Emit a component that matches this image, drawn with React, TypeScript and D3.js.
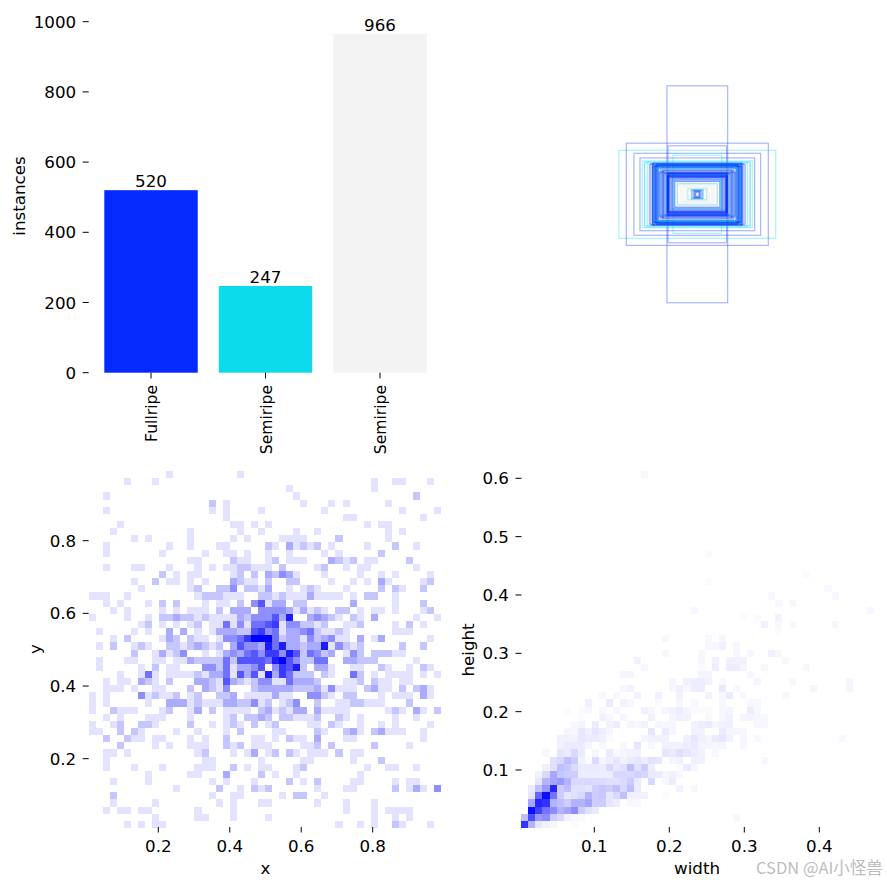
import * as d3 from 'd3'

const classNames = ['Fullripe', 'Semiripe', 'Semiripe']
const instanceCounts = [520, 247, 966]
const classColors = ['#042AFF', '#0BDBEB', '#F3F3F3']
const countTicks = [0, 200, 400, 600, 800, 1000]

// box sizes as fractions of the image, in the order they get drawn
const boxWidths = [
  0.442, 0.4, 0.357, 0.323, 0.171, 0.165, 0.137, 0.31, 0.298, 0.282, 0.296, 0.27, 0.262, 0.25, 0.246, 0.24, 0.238,
  0.229, 0.235, 0.224, 0.216, 0.233, 0.222, 0.207, 0.197, 0.252, 0.244, 0.254, 0.248, 0.242, 0.236, 0.231, 0.226,
  0.221, 0.25, 0.241, 0.246, 0.24, 0.19, 0.184, 0.179, 0.173, 0.167, 0.167, 0.16, 0.15, 0.17, 0.164, 0.172, 0.176,
  0.169, 0.162, 0.156,
  0.21, 0.2, 0.22, 0.195, 0.19, 0.185, 0.205, 0.214, 0.2, 0.17, 0.165, 0.162, 0.158, 0.168, 0.166, 0.137, 0.13, 0.145,
  0.141, 0.126, 0.132, 0.116, 0.107, 0.094, 0.079, 0.068, 0.112, 0.086, 0.06, 0.053, 0.047, 0.034,
  0.03, 0.023, 0.02, 0.015, 0.012, 0.009,
]
const boxHeights = [
  0.248, 0.288, 0.231, 0.205, 0.611, 0.273, 0.22, 0.188, 0.184, 0.179, 0.176, 0.168, 0.172, 0.175, 0.17, 0.165, 0.172,
  0.169, 0.164, 0.158, 0.165, 0.15, 0.147, 0.141, 0.135, 0.16, 0.155, 0.17, 0.174, 0.168, 0.162, 0.172, 0.166, 0.16,
  0.154, 0.148, 0.166, 0.158, 0.131, 0.128, 0.117, 0.113, 0.107, 0.122, 0.107, 0.098, 0.112, 0.104, 0.11, 0.115, 0.1,
  0.118, 0.094,
  0.13, 0.125, 0.15, 0.14, 0.115, 0.12, 0.15, 0.122, 0.145, 0.105, 0.11, 0.1, 0.095, 0.1, 0.116, 0.08, 0.075, 0.085,
  0.09, 0.071, 0.082, 0.064, 0.056, 0.052, 0.047, 0.038, 0.06, 0.042, 0.034, 0.03, 0.024, 0.026, 0.024,
  0.02, 0.018, 0.019, 0.014, 0.011,
]
const boxClasses = [
  1, 0, 0, 0, 0, 0, 1, 1, 1, 1, 1, 0, 0, 0, 0, 0, 2, 0, 0, 1, 0, 0, 0, 2, 0, 0, 1, 0, 0, 0, 0, 0, 0, 0, 0, 1, 1, 0, 0, 2,
  0, 0, 0, 0, 0, 0, 0, 0, 1, 1, 0, 0, 0,
  0, 0, 1, 0, 0, 0, 0, 0, 1, 0, 0, 0, 0, 0, 0, 0, 0, 0,
  0, 0, 1, 2, 2, 2, 2, 2, 1, 2, 2, 1, 2, 1, 0, 1, 0, 0, 0, 0,
]

// x/y histogram, one entry per row from the top, "column:count"
const xyRows = [
  '11:1 21:1',
  '5:1 9:1 40:1 43:1 44:1 48:1',
  '28:1 40:1',
  '2:1 29:1 46:2',
  '17:2 19:1 30:1 34:1 36:1 42:1',
  '2:1 17:1 19:1 24:1 33:1 44:1 49:1',
  '19:1 36:1 37:1 47:1',
  '4:1 20:1 21:1 23:1 25:1 39:1 41:1 42:1',
  '3:1 14:1 21:1 24:1 29:1 32:1 42:1 44:1',
  '6:1 8:1 14:1 20:1 22:1 27:1 28:1 29:1 30:1 35:2 42:1',
  '2:1 11:1 14:1 18:1 19:1 25:2 26:1 28:3 29:1 30:2 31:1 32:2 34:1 39:1 43:2 46:1',
  '2:1 10:1 16:1 19:1 20:1 22:1 25:1 28:1 33:1 35:1 41:2',
  '14:1 15:1 20:2 21:1 22:1 25:1 26:2 28:1 29:1 30:1 34:3 35:2 36:1 37:2 39:1 40:1 45:2',
  '2:1 6:1 7:1 11:1 15:1 17:1 19:1 20:1 21:2 22:2 23:1 24:1 25:1 27:2 32:1 33:2 36:1 38:1 39:1 46:1',
  '10:2 12:1 14:1 15:1 20:1 21:2 23:2 25:3 26:2 27:4 28:3 29:1 33:1 38:1 41:1 43:1 48:1',
  '6:1 9:2 11:1 12:1 14:1 16:1 20:3 21:2 22:1 23:1 25:2 28:2 29:2 34:1 37:1 39:1 41:3 42:1 47:1 48:2',
  '7:1 14:1 15:2 18:2 19:2 20:4 22:2 23:2 24:1 25:3 28:1 30:1 31:2 32:1 36:1 41:2 43:2 44:1 47:2',
  '0:1 1:1 2:1 5:1 15:1 16:2 17:2 18:2 19:1 20:1 21:1 24:2 25:2 26:1 27:2 28:1 29:1 30:1 31:3 32:1 33:1 34:1 35:1 37:1 39:2 40:2 43:1',
  '2:1 4:1 8:1 10:2 12:2 16:1 18:1 19:1 21:2 23:4 24:6 25:1 26:3 27:3 29:2 30:2 37:3 43:1 47:2',
  '3:1 5:1 10:1 12:1 14:1 15:1 16:1 18:2 20:3 21:3 22:3 24:4 25:4 26:4 27:4 28:3 29:1 30:3 31:1 32:2 33:1 35:2 36:2 38:1 40:1 41:1 43:1 47:1 48:2',
  '0:1 5:1 8:1 10:2 11:2 12:3 13:2 14:2 15:1 16:2 17:1 18:1 19:1 20:1 21:3 22:2 23:4 24:4 25:4 26:6 27:3 28:8 31:3 32:4 33:3 34:2 35:1 37:2 38:1 40:3 46:1 49:1',
  '7:1 8:2 10:1 12:1 14:1 15:2 17:1 18:1 19:5 20:1 21:4 22:1 23:5 24:5 25:6 26:7 27:1 28:4 29:4 30:2 31:2 32:1 33:2 36:1 37:1 38:2 43:1 45:2 47:1',
  '1:1 6:1 8:1 11:3 13:3 15:1 17:1 18:3 19:3 20:3 21:2 22:2 23:6 24:7 25:4 26:5 27:1 28:3 29:3 30:4 31:5 32:2 33:1 34:1 35:2 36:1 43:1 44:1 45:1',
  '3:1 5:2 10:1 11:3 12:2 14:2 15:1 16:1 18:1 19:4 20:4 21:5 22:7 23:9 24:9 25:9 26:5 27:2 28:3 29:3 30:1 31:4 32:2 33:3 34:4 35:1 36:1 38:3 40:1 41:3 48:1',
  '1:1 3:2 6:1 7:2 8:1 11:2 12:2 13:1 14:2 15:3 16:2 17:1 18:2 20:3 21:6 22:4 23:4 24:3 25:8 26:5 27:8 28:3 29:3 30:2 31:3 32:3 33:8 34:1 35:4 36:2 37:1 38:2 44:2 47:2',
  '6:2 9:1 10:3 11:1 12:2 13:4 16:1 18:1 19:3 20:4 21:3 22:5 23:6 24:4 25:7 26:7 27:4 28:8 29:6 30:2 31:5 32:4 33:2 34:3 36:1 37:4 38:2 40:2 41:2 42:2 43:1 44:1',
  '1:1 5:1 6:1 9:1 10:1 12:1 13:1 14:3 15:2 16:2 17:2 18:2 19:5 20:2 21:6 22:6 23:6 24:6 25:5 26:8 27:9 28:6 29:4 30:2 31:2 32:5 33:5 36:3 37:3 38:2 39:2 40:2 46:1',
  '1:1 7:1 9:2 11:1 12:1 16:4 17:4 18:2 19:5 20:1 21:3 22:3 23:4 24:6 26:4 27:7 28:6 29:8 30:2 32:3 33:3 34:1 37:1 38:1 41:2 42:1 45:1 47:2 48:1',
  '4:1 7:1 8:5 9:1 11:1 12:1 13:1 14:1 15:2 16:1 17:3 18:3 19:5 20:1 21:6 22:3 23:6 24:1 25:8 26:3 27:7 28:5 29:2 30:2 31:2 33:2 34:1 37:5 38:2 40:1 42:1 43:1 44:1 45:1 47:1 49:1',
  '2:1 4:1 5:1 7:3 8:2 9:1 11:2 15:3 16:3 17:2 18:1 19:6 20:3 21:2 22:1 23:2 24:4 25:4 26:1 27:1 28:5 29:3 30:3 31:3 32:2 36:1 37:1 38:2 40:2 41:1 42:1 44:1 45:1',
  '2:1 3:1 4:1 6:1 9:1 10:1 14:2 16:3 17:2 18:1 19:4 23:2 24:3 25:3 26:3 27:3 28:3 29:2 30:2 31:2 32:3 33:1 34:4 35:1 36:1 37:1 39:2 40:3 41:1 42:1 44:2 46:2 47:3 48:1',
  '0:1 2:1 7:4 8:1 9:2 10:1 11:1 12:2 14:1 15:2 18:2 19:2 20:3 22:1 23:1 24:1 25:1 26:3 27:1 28:1 31:4 32:4 33:2 34:1 36:2 37:2 41:1 43:1 44:1 45:1 47:3 48:1',
  '0:1 2:1 8:1 11:3 12:3 13:3 14:1 15:2 16:1 17:1 18:1 19:3 20:3 21:2 22:2 23:4 24:1 25:2 27:1 28:2 29:4 32:2 35:1 36:1 37:2 38:2 39:1 40:1 41:1 45:2',
  '0:1 3:2 4:1 5:1 6:1 10:1 11:2 14:1 15:3 17:2 19:1 20:1 21:1 22:1 24:2 25:3 26:1 27:2 28:1 29:3 30:3 32:3 33:1 34:1 35:1 36:1 42:1 43:2 44:1 46:3 47:1 49:2',
  '2:1 4:1 8:1 9:1 10:1 14:1 19:1 20:2 22:2 23:2 24:3 25:2 27:2 28:2 29:1 30:1 31:1 32:2 35:2 36:1 38:1 43:1 46:1',
  '0:1 3:1 4:2 7:2 8:2 9:1 14:2 17:1 19:1 20:2 21:1 23:2 25:1 26:2 31:1 32:1 34:2 35:1 38:1 41:1 43:1 48:1',
  '0:1 1:1 4:2 6:2 7:1 12:1 15:1 19:1 21:2 26:1 27:1 32:2 33:1 36:2 37:3 38:1 40:2 41:3 42:1 43:1 44:1 47:1',
  '2:2 5:2 6:1 7:1 9:1 10:1 14:1 16:1 19:2 23:1 24:1 26:1 28:2 29:1 30:1 32:3 36:1 37:1 47:1',
  '4:2 9:1 11:1 14:1 15:1 16:1 19:2 20:1 21:2 23:1 24:1 25:1 30:1 31:1 32:2 34:2 40:2 45:1',
  '2:1 3:1 5:1 15:1 16:2 20:1 22:1 23:3 25:1 26:2 28:2 29:1 31:1 32:1 33:1 35:2 37:1 38:1',
  '2:1 16:1 17:1 24:1 30:1 31:1 37:1 41:2',
  '2:1 6:1 10:1 15:1 16:1 17:1 20:2 22:1 24:1 25:1 29:1 30:2 39:1 42:1 43:1 46:1',
  '8:1 14:1 15:1 19:3 24:2 26:1 29:1 38:1',
  '3:1 8:1 17:1 19:1 23:1 28:2 30:1 32:2 37:1 38:1 43:1 45:1 46:1',
  '12:1 18:2 21:1 23:2 24:1 25:2 32:1 36:1 37:1 43:2 45:1 46:3 47:1 49:4',
  '3:2 17:1 20:1 21:1 27:1 29:2 30:2 33:1',
  '3:1 9:1 18:1 20:1 24:1 25:1 32:1 36:1 40:1',
  '2:1 4:1 5:1 7:1 8:1 15:1 20:1 36:1 40:1 42:1 43:1 44:1 45:1',
  '9:1 15:1 16:1 20:1 25:1 40:1 43:1 45:1',
  '5:1 7:1 9:1 10:1 35:1 38:1 40:1 43:2 44:1 48:1',
]

// width/height histogram, same layout, values are percent of the darkest cell
const whRows = [
  '17:3', '', '', '', '', '', '', '', '', '', '', '26:2', '',
  '',
  '40:2',
  '26:2',
  '43:3',
  '35:3 44:3',
  '36:3 38:3',
  '24:3 49:3',
  '31:2 33:2 36:5',
  '34:5 36:3 38:3 44:3',
  '36:2',
  '20:3 26:3 28:3',
  '26:3 27:3 28:6 30:3',
  '20:3 25:3 30:3 32:3 35:6 36:3',
  '16:5 25:3 27:6 29:5 30:5 31:5 37:3',
  '17:3 25:2 27:7 29:7 30:7 31:4 34:3 40:3',
  '14:4 15:4 25:4 26:4 32:3',
  '21:4 23:6 24:7 25:7 26:5 28:3 33:4 38:3 46:4',
  '14:3 15:5 21:3 22:6 23:3 24:7 25:7 28:9 30:3 41:4 46:4',
  '11:3 13:3 16:5 19:5 22:5 26:5 28:3 29:8 31:3 37:3',
  '9:6 12:8 14:5 15:3 19:2 22:3 24:3 28:3 32:3 33:3',
  '6:2 8:2 9:3 11:3 13:3 17:6 18:3 20:4 21:5 22:7 23:4 24:2 25:2 26:2 28:3 29:4 32:7 33:3',
  '8:2 11:5 12:3 14:4 18:5 21:4 22:6 23:5 26:3 28:3 29:6 31:4 32:4 33:3 34:3',
  '7:3 8:4 10:8 12:5 13:7 15:4 16:3 17:5 19:4 20:3 21:3 24:6 25:7 26:8 27:4 28:5 29:6 33:3 34:3',
  '6:4 7:3 8:10 9:6 10:10 11:7 12:4 18:10 20:8 21:4 24:5 25:5 28:8 29:4 30:4 31:3',
  '5:6 6:6 7:5 8:9 9:8 10:8 11:6 12:2 17:4 18:5 19:6 20:5 23:6 24:10 25:6 26:4 27:8 28:10 29:5 31:4 33:3 45:3',
  '5:6 6:8 7:8 8:8 9:4 11:3 14:3 16:10 18:3 20:6 21:5 22:5 23:7 24:8 25:4 26:4 27:3 28:4 31:3',
  '3:3 5:10 6:8 7:15 8:8 10:3 12:8 13:3 14:4 15:5 16:5 20:10 21:8 22:12 23:10 24:7 25:5 27:3',
  '4:12 5:15 6:25 7:20 8:5 9:2 10:14 11:4 12:6 13:10 14:5 15:8 16:10 17:7 18:12 19:10 21:4 22:5 24:6 25:6 34:3',
  '3:6 4:12 5:25 6:22 7:14 8:8 9:8 10:8 11:7 12:15 13:10 14:12 15:25 16:12 17:20 18:7 22:2 23:8 24:4',
  '2:6 3:15 4:35 5:22 6:20 7:20 8:7 9:7 10:7 11:7 12:7 13:15 14:15 15:15 16:18 17:16 18:8 19:8 20:4 21:5 22:3',
  '2:10 3:30 4:35 5:40 6:30 7:15 8:15 9:15 10:14 11:14 12:12 13:12 14:14 15:20 16:8 18:15 20:3 21:7',
  '1:8 2:25 3:40 4:85 5:20 6:25 7:12 8:12 9:10 10:20 11:22 12:20 13:25 14:15 15:25 16:8 22:5 24:3',
  '1:10 2:60 3:95 4:55 5:20 6:10 7:12 8:15 9:30 10:20 11:22 12:10 13:15 14:25 15:6 16:5 17:5 20:2',
  '1:35 2:85 3:80 4:30 5:25 6:20 7:30 8:30 9:35 10:20 11:20 12:10 13:7 15:3 16:3',
  '1:95 2:75 3:55 4:45 5:30 6:35 7:45 8:20 9:12 10:8',
  '0:25 1:70 2:40 3:45 4:20 5:15 6:5 7:3 8:2 30:3',
  '0:80 1:30 2:10 3:5 4:3 7:2',
]

const xTicks = [0.2, 0.4, 0.6, 0.8]
const yTicks = [0.2, 0.4, 0.6, 0.8]
const widthTicks = [0.1, 0.2, 0.3, 0.4]
const heightTicks = [0.1, 0.2, 0.3, 0.4, 0.5, 0.6]

const font = '"DejaVu Sans", sans-serif'
const fontSize = 16.7

const parseRow = (row: string) =>
  row
    .split(' ')
    .filter(Boolean)
    .map(s => s.split(':').map(Number))

const xBand = d3.scaleBand<number>().domain(d3.range(3)).range([92.85, 438.2]).paddingInner(0.184).paddingOuter(0.1)
const countScale = d3.scaleLinear().domain([0, 1000]).range([372.7, 21.7])

// panel scales, fitted to the tick marks
const xScale = d3.scaleLinear().domain([0.2, 0.8]).range([158.3, 372.7])
const yScale = d3.scaleLinear().domain([0.2, 0.8]).range([758.7, 540.7])
const wScale = d3.scaleLinear().domain([0.1, 0.4]).range([594.3, 819.3])
const hScale = d3.scaleLinear().domain([0.1, 0.6]).range([770, 478.3])
const boxScale = d3.scaleLinear().domain([0, 1]).range([0, 355])

const colBand = (left: number) =>
  d3.scaleBand<number>().domain(d3.range(50)).range([left, left + 352.5])
const rowBand = d3.scaleBand<number>().domain(d3.range(50)).range([471, 828])

const shade = d3.scaleLinear<string>().domain([0, 1]).range(['#ffffff', '#0000ff'])

function Heat({ rows, left, max }: { rows: string[]; left: number; max: number }) {
  const cols = colBand(left)
  return (
    <g shapeRendering="crispEdges">
      {rows.map((row, r) =>
        parseRow(row).map(([c, v]) => (
          <rect
            key={`${r}-${c}`}
            x={cols(c)}
            y={rowBand(r)}
            width={cols.bandwidth()}
            height={rowBand.bandwidth()}
            fill={shade(v / max)}
          />
        )),
      )}
    </g>
  )
}

function BottomAxis({ scale, ticks, label, labelX }: { scale: d3.ScaleLinear<number, number>; ticks: number[]; label: string; labelX: number }) {
  return (
    <g>
      {ticks.map(t => (
        <g key={t}>
          <line x1={scale(t)} x2={scale(t)} y1={827} y2={832.5} stroke="#000" strokeWidth={1} />
          <text x={scale(t)} y={852} textAnchor="middle">
            {t.toFixed(1)}
          </text>
        </g>
      ))}
      <text x={labelX} y={873.5} textAnchor="middle">
        {label}
      </text>
    </g>
  )
}

function LeftAxis({
  scale,
  ticks,
  tickX,
  label,
  labelX,
  labelY,
}: {
  scale: d3.ScaleLinear<number, number>
  ticks: number[]
  tickX: number
  label: string
  labelX: number
  labelY: number
}) {
  return (
    <g>
      {ticks.map(t => (
        <g key={t}>
          <line x1={tickX} x2={tickX + 6} y1={scale(t)} y2={scale(t)} stroke="#000" strokeWidth={1} />
          <text x={tickX - 6.5} y={scale(t) + 6} textAnchor="end">
            {Number.isInteger(t) ? t : t.toFixed(1)}
          </text>
        </g>
      ))}
      <text transform={`translate(${labelX},${labelY}) rotate(-90)`} textAnchor="middle">
        {label}
      </text>
    </g>
  )
}

export default function App() {
  const cx = 697.3
  const cy = 194.3
  return (
    <svg
      width={887}
      height={883}
      viewBox="0 0 887 883"
      style={{ position: 'absolute', left: 0, top: 0, background: '#fff' }}
      fontFamily={font}
      fontSize={fontSize}
      fill="#000"
    >
      {/* class counts */}
      {instanceCounts.map((v, i) => (
        <g key={i}>
          <rect
            x={xBand(i)}
            y={countScale(v)}
            width={xBand.bandwidth()}
            height={countScale(0) - countScale(v)}
            fill={classColors[i]}
          />
          <text x={xBand(i)! + xBand.bandwidth() / 2} y={countScale(v) - 3} textAnchor="middle">
            {v}
          </text>
          <line
            x1={xBand(i)! + xBand.bandwidth() / 2}
            x2={xBand(i)! + xBand.bandwidth() / 2}
            y1={372.7}
            y2={378.5}
            stroke="#000"
          />
          <text
            transform={`translate(${xBand(i)! + xBand.bandwidth() / 2 + 6},385) rotate(-90)`}
            textAnchor="end"
            fontSize={15.6}
          >
            {classNames[i]}
          </text>
        </g>
      ))}
      <LeftAxis scale={countScale} ticks={countTicks} tickX={82.7} label="instances" labelX={25} labelY={196} />

      {/* boxes drawn from a shared centre */}
      <g fill="none" strokeWidth={1.2}>
        {boxWidths.map((w, i) => (
          <rect
            key={i}
            x={cx - boxScale(w) / 2}
            y={cy - boxScale(boxHeights[i]) / 2}
            width={boxScale(w)}
            height={boxScale(boxHeights[i])}
            stroke={classColors[boxClasses[i]]}
            strokeOpacity={boxClasses[i] === 2 ? 0.8 : 0.35}
          />
        ))}
      </g>

      {/* x / y */}
      <Heat rows={xyRows} left={88.7} max={9} />
      <LeftAxis scale={yScale} ticks={yTicks} tickX={82.7} label="y" labelX={41} labelY={649} />
      <BottomAxis scale={xScale} ticks={xTicks} label="x" labelX={265.5} />

      {/* width / height */}
      <Heat rows={whRows} left={521.3} max={100} />
      <LeftAxis scale={hScale} ticks={heightTicks} tickX={515.5} label="height" labelX={474} labelY={650} />
      <BottomAxis scale={wScale} ticks={widthTicks} label="width" labelX={697} />

      <text x={756} y={874} fontSize={16.5} fill="#bdbdbd" fontFamily='"Noto Sans CJK SC", "DejaVu Sans", sans-serif'>
        CSDN @AI小怪兽
      </text>
    </svg>
  )
}
